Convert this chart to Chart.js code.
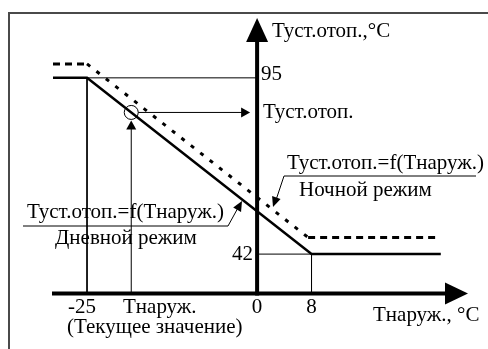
<!DOCTYPE html>
<html>
<head>
<meta charset="utf-8">
<script src="https://cdn.jsdelivr.net/npm/chart.js@4"></script>
<style>
  html, body { margin: 0; padding: 0; background: #fff; }
  #wrap { width: 488px; height: 349px; position: relative; }
</style>
</head>
<body>
<div id="wrap"><canvas id="chart"></canvas></div>
<script>
// day mode setpoint curve (solid)
const dayX = [-30, -25, 8, 27];
const dayY = [95, 95, 42, 42];
// night mode setpoint curve (dashed)
const nightX = [-30, -25, 7.5, 26.5];
const nightY = [99.2, 99.2, 47, 47];
// current outdoor temperature and its setpoint
const tCurrent = -18.5;
const setCurrent = 84.6;
// tick values
const xTicks = [-25, 0, 8];
const yTicks = [95, 42];
// drop lines from the break points
const guideX = [[-25, -25], [-25, 0], [8, 8], [0, 8]];
const guideY = [[95, 30], [95, 95], [42, 30], [42, 42]];

const xMin = -30, xMax = 31, yMin = 30, yMax = 113;
const FONT = '21px "Liberation Serif", "Times New Roman", serif';

function pts(xs, ys){
  return xs.map(function(x, i){ return {x: x, y: ys[i]}; });
}

function arrowHead(ctx, tx, ty, fx, fy, len, half){
  let dx = tx - fx, dy = ty - fy;
  let d = Math.sqrt(dx*dx + dy*dy);
  dx /= d; dy /= d;
  let bx = tx - dx*len, by = ty - dy*len;
  ctx.beginPath();
  ctx.moveTo(tx, ty);
  ctx.lineTo(bx - dy*half, by + dx*half);
  ctx.lineTo(bx + dy*half, by - dx*half);
  ctx.closePath();
  ctx.fill();
}

function line(ctx, p, w){
  ctx.lineWidth = w;
  ctx.beginPath();
  ctx.moveTo(p[0][0], p[0][1]);
  for (let i = 1; i < p.length; i++) ctx.lineTo(p[i][0], p[i][1]);
  ctx.stroke();
}

// BEGIN frame + axes + labels
const diagram = {
  id: 'diagram',
  beforeDraw: function(chart){
    let ctx = chart.ctx;
    ctx.save();
    ctx.strokeStyle = '#4a4a4a';
    line(ctx, [[9, 360], [9, 13], [500, 13]], 2);
    ctx.restore();
  },
  afterDatasetsDraw: function(chart){
    let ctx = chart.ctx;
    let xs = chart.scales.x, ys = chart.scales.y;
    let x0 = xs.getPixelForValue(0);
    let yAx = ys.getPixelForValue(yMin) - 0.5;
    ctx.save();
    ctx.strokeStyle = '#000';
    ctx.fillStyle = '#000';

    // axes
    line(ctx, [[52, yAx], [xs.right - 20, yAx]], 4);
    arrowHead(ctx, xs.right, yAx, 0, yAx, 23, 11);
    line(ctx, [[x0, yAx + 2], [x0, ys.top + 20]], 4);
    arrowHead(ctx, x0, ys.top, x0, 400, 24, 11);

    // current value arrows
    let cx = xs.getPixelForValue(tCurrent);
    let cy = ys.getPixelForValue(setCurrent);
    line(ctx, [[cx, yAx], [cx, cy + 12]], 1);
    arrowHead(ctx, cx, cy + 8, cx, yAx, 9, 5);
    line(ctx, [[cx + 7, cy], [x0 - 12, cy]], 1);
    arrowHead(ctx, x0 - 7, cy, cx, cy, 9, 5);

    // leaders for the curve labels
    line(ctx, [[23, 226], [228, 226], [239, 206]], 1);
    arrowHead(ctx, 242, 201, 228, 226, 10, 4.5);
    line(ctx, [[476, 176], [284, 176], [276, 200]], 1);
    arrowHead(ctx, 273, 207, 284, 176, 10, 4.5);

    // text
    ctx.font = FONT;
    ctx.textBaseline = 'middle';
    ctx.textAlign = 'center';
    xTicks.forEach(function(v){
      let px = xs.getPixelForValue(v);
      if (v < 0) px -= 5;
      ctx.fillText(String(v), px, 307);
    });
    ctx.textAlign = 'left';
    ctx.fillText(String(yTicks[0]), x0 + 4, ys.getPixelForValue(yTicks[0]) - 3);
    ctx.textAlign = 'right';
    ctx.fillText(String(yTicks[1]), x0 - 4, ys.getPixelForValue(yTicks[1]));

    ctx.textAlign = 'left';
    ctx.fillText('Туст.отоп.,°С', 272, 31);
    ctx.fillText('Туст.отоп.', 263, cy);
    ctx.fillText('Туст.отоп.=f(Тнаруж.)', 287, 163);
    ctx.fillText('Ночной режим', 299, 190);
    ctx.fillText('Туст.отоп.=f(Тнаруж.)', 27, 212);
    ctx.fillText('Дневной режим', 55, 238);
    ctx.fillText('Тнаруж.', 123, 307);
    ctx.fillText('(Текущее значение)', 67, 327);
    ctx.fillText('Тнаруж., °С', 373, 315);
    ctx.restore();
  }
};
// END frame + axes + labels

let datasets = [
  {
    data: pts(dayX, dayY),
    borderColor: '#000',
    borderWidth: 2.5,
    pointRadius: 0
  },
  {
    data: pts(nightX, nightY),
    borderColor: '#000',
    borderWidth: 3,
    pointRadius: 0,
    segment: {
      borderDash: function(c){ return c.p0.parsed.y === c.p1.parsed.y ? [7, 5] : [4, 8]; }
    }
  },
  {
    data: [{x: tCurrent, y: setCurrent}],
    showLine: false,
    pointRadius: 7,
    pointStyle: 'circle',
    backgroundColor: 'rgba(0,0,0,0)',
    borderColor: '#000',
    borderWidth: 1
  }
];
guideX.forEach(function(gx, i){
  datasets.push({
    data: pts(gx, guideY[i]),
    borderColor: '#000',
    borderWidth: 1,
    pointRadius: 0
  });
});

new Chart(document.getElementById('chart'), {
  type: 'scatter',
  data: { datasets: datasets },
  options: {
    responsive: true,
    maintainAspectRatio: false,
    animation: false,
    showLine: true,
    layout: { padding: { left: 53, right: 20, top: 18, bottom: 55 } },
    plugins: { legend: { display: false }, tooltip: { enabled: false } },
    scales: {
      x: { type: 'linear', min: xMin, max: xMax, display: false },
      y: { type: 'linear', min: yMin, max: yMax, display: false }
    }
  },
  plugins: [diagram]
});
</script>
</body>
</html>
